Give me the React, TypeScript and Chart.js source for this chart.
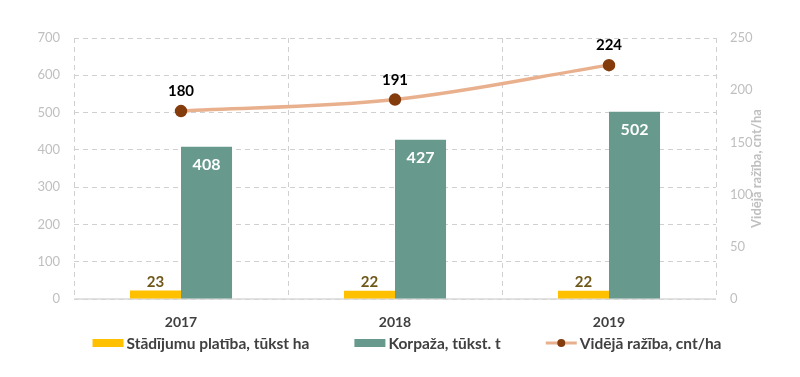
import React, { useEffect, useRef } from "react";
import { Chart, registerables } from "chart.js";

Chart.register(...registerables);

const years = ["2017", "2018", "2019"];
const area = [23, 22, 22];
const harvest = [408, 427, 502];
const yieldValues = [180, 191, 224];
const seriesNames = ["Stādījumu platība, tūkst ha", "Korpaža, tūkst. t", "Vidējā ražība, cnt/ha"];
const rightAxisTitle = "Vidējā ražība, cnt/ha";

const YELLOW = "#FFC000";
const GREEN = "#679A8C";
const LINE = "#E9B08E";
const POINT = "#843C0C";
const GRID = "#D0D0D0";
const FONT = "Lato, 'Open Sans', sans-serif";

const labelsPlugin = {
  id: "valueLabels",
  afterDatasetsDraw(chart: any) {
    const ctx = chart.ctx;
    ctx.save();
    ctx.textAlign = "center";
    chart.data.datasets.forEach((ds: any, i: number) => {
      const meta = chart.getDatasetMeta(i);
      meta.data.forEach((el: any, j: number) => {
        const v = ds.data[j];
        if (i === 0) {
          ctx.font = `bold 15px ${FONT}`;
          ctx.fillStyle = "#6E5718";
          ctx.textBaseline = "bottom";
          ctx.fillText(String(v), el.x, el.y - 1);
        } else if (i === 1) {
          ctx.font = `bold 16px ${FONT}`;
          ctx.fillStyle = "#FFFFFF";
          ctx.textBaseline = "top";
          ctx.fillText(String(v), el.x, el.y + 10);
        } else {
          ctx.font = `bold 15px ${FONT}`;
          ctx.fillStyle = "#000000";
          ctx.textBaseline = "bottom";
          ctx.fillText(String(v), el.x, el.y - 12);
        }
      });
    });
    ctx.restore();
  },
};

const extrasPlugin = {
  id: "extras",
  beforeDatasetsDraw(chart: any) {
    const ctx = chart.ctx;
    const ca = chart.chartArea;
    ctx.save();
    ctx.strokeStyle = "#D9D9D9";
    ctx.lineWidth = 1.5;
    ctx.beginPath();
    ctx.moveTo(ca.left, ca.bottom);
    ctx.lineTo(ca.right, ca.bottom);
    ctx.stroke();
    ctx.restore();
  },
  afterDraw(chart: any) {
    const ctx = chart.ctx;
    const ca = chart.chartArea;
    ctx.save();
    ctx.font = `bold 13px ${FONT}`;
    ctx.fillStyle = "#BFBFBF";
    ctx.textAlign = "center";
    ctx.textBaseline = "middle";
    ctx.translate(ca.right + 41, (ca.top + ca.bottom) / 2);
    ctx.rotate(-Math.PI / 2);
    ctx.fillText(rightAxisTitle, 0, 0);
    ctx.restore();

    ctx.save();
    ctx.font = `bold 15.5px ${FONT}`;
    ctx.textBaseline = "middle";
    ctx.textAlign = "left";
    const boxW = 31;
    const gapBT = 3;
    const gap = 45;
    const widths = seriesNames.map((n) => boxW + gapBT + ctx.measureText(n).width);
    const total = widths.reduce((a, b) => a + b, 0) + gap * (widths.length - 1);
    let x = 407 - total / 2;
    const y = 343;
    seriesNames.forEach((n, i) => {
      if (i === 0 || i === 1) {
        ctx.fillStyle = i === 0 ? YELLOW : GREEN;
        ctx.fillRect(x, y - 4, boxW, 8);
      } else {
        ctx.strokeStyle = LINE;
        ctx.lineWidth = 3;
        ctx.beginPath();
        ctx.moveTo(x, y);
        ctx.lineTo(x + boxW, y);
        ctx.stroke();
        ctx.fillStyle = POINT;
        ctx.beginPath();
        ctx.arc(x + boxW / 2, y, 4, 0, Math.PI * 2);
        ctx.fill();
      }
      ctx.fillStyle = "#404040";
      ctx.fillText(n, x + boxW + gapBT, y + 1);
      x += widths[i] + gap;
    });
    ctx.restore();
  },
};

export default function App() {
  const ref = useRef<HTMLCanvasElement>(null);
  useEffect(() => {
    const chart = new Chart(ref.current!, {
      type: "bar",
      data: {
        labels: years,
        datasets: [
          {
            type: "bar",
            label: seriesNames[0],
            data: area,
            backgroundColor: YELLOW,
            yAxisID: "y",
            categoryPercentage: 0.477,
            barPercentage: 1,
            order: 2,
          },
          {
            type: "bar",
            label: seriesNames[1],
            data: harvest,
            backgroundColor: GREEN,
            yAxisID: "y",
            categoryPercentage: 0.477,
            barPercentage: 1,
            order: 2,
          },
          {
            type: "line",
            label: seriesNames[2],
            data: yieldValues,
            borderColor: LINE,
            borderWidth: 3.5,
            pointBackgroundColor: POINT,
            pointBorderColor: POINT,
            pointRadius: 4.5,
            tension: 0.35,
            yAxisID: "y1",
            order: 1,
          },
        ] as any,
      },
      options: {
        animation: false,
        responsive: false,
        maintainAspectRatio: false,
        layout: { padding: { top: 38, bottom: 47, left: 0, right: 0 } },
        plugins: { legend: { display: false }, tooltip: { enabled: false } },
        scales: {
          x: {
            grid: {
              display: true,
              offset: true,
              color: GRID,
              drawTicks: false,
              lineWidth: 1,
            },
            border: { display: false, dash: [5, 4] },
            ticks: {
              padding: 15,
              color: "#404040",
              font: { family: FONT, size: 14, weight: "bold" },
            },
            afterFit: (s: any) => {
              s.height = 31;
            },
          } as any,
          y: {
            position: "left",
            min: 0,
            max: 700,
            ticks: {
              stepSize: 100,
              padding: 14,
              color: "#BFBFBF",
              font: { family: FONT, size: 13 },
            },
            grid: { color: GRID, drawTicks: false },
            border: { display: false, dash: [5, 4] },
            afterFit: (s: any) => {
              s.width = 74;
            },
          } as any,
          y1: {
            position: "right",
            min: 0,
            max: 250,
            ticks: {
              stepSize: 50,
              padding: 14,
              color: "#BFBFBF",
              font: { family: FONT, size: 13 },
            },
            grid: { display: false, drawTicks: false },
            border: { display: false },
            afterFit: (s: any) => {
              s.width = 84;
            },
          } as any,
        },
      },
      plugins: [
        labelsPlugin,
        extrasPlugin,
        {
          id: "bg",
          beforeDraw(chart: any) {
            const ctx = chart.ctx;
            ctx.save();
            ctx.fillStyle = "#FFFFFF";
            ctx.fillRect(0, 0, chart.width, chart.height);
            ctx.restore();
          },
        },
      ],
    } as any);
    return () => chart.destroy();
  }, []);
  return (
    <div style={{ position: "fixed", left: 0, top: 0, width: 800, height: 377, background: "#fff" }}>
      <canvas ref={ref} width={800} height={377} style={{ width: 800, height: 377 }} />
    </div>
  );
}
